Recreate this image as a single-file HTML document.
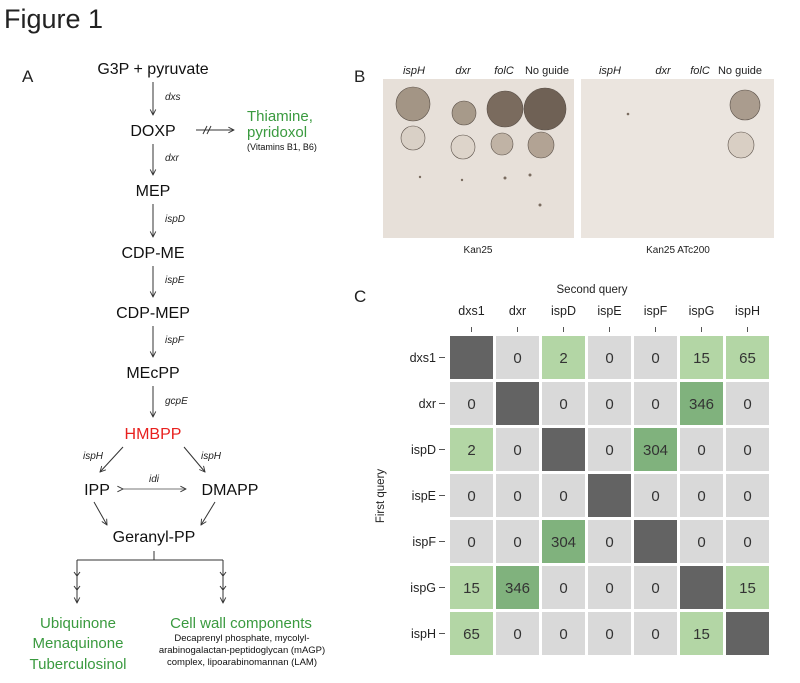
<!DOCTYPE html>
<html><head><meta charset="utf-8"><style>
body{margin:0;background:#fff}
svg text{font-family:"Liberation Sans",sans-serif}
</style></head><body>
<svg id="fig" width="800" height="678" viewBox="0 0 800 678" xmlns="http://www.w3.org/2000/svg">
<defs><marker id="ah" viewBox="0 0 10 10" refX="9" refY="5" markerWidth="7" markerHeight="7" orient="auto"><path d="M1,1 L9,5 L1,9" fill="none" stroke="#333" stroke-width="1.3"/></marker></defs>
<text x="4" y="28" font-size="27" fill="#222">Figure 1</text>
<text x="22" y="82" font-size="17" fill="#222">A</text>
<g id="pathway" font-size="16" fill="#111" text-anchor="middle">
<text x="153" y="74">G3P + pyruvate</text>
<text x="153" y="136">DOXP</text>
<text x="153" y="196">MEP</text>
<text x="153" y="258">CDP-ME</text>
<text x="153" y="318">CDP-MEP</text>
<text x="153" y="378">MEcPP</text>
<text x="153" y="439" fill="#e8201e">HMBPP</text>
<text x="97" y="495">IPP</text>
<text x="230" y="495">DMAPP</text>
<text x="154" y="542">Geranyl-PP</text>
</g>
<g stroke="#333" stroke-width="1" fill="none">
<line x1="153" y1="82" x2="153" y2="115" marker-end="url(#ah)"/>
<line x1="153" y1="144" x2="153" y2="175" marker-end="url(#ah)"/>
<line x1="153" y1="204" x2="153" y2="237" marker-end="url(#ah)"/>
<line x1="153" y1="266" x2="153" y2="297" marker-end="url(#ah)"/>
<line x1="153" y1="326" x2="153" y2="357" marker-end="url(#ah)"/>
<line x1="153" y1="386" x2="153" y2="417" marker-end="url(#ah)"/>
<line x1="196" y1="130" x2="234" y2="130" marker-end="url(#ah)"/>
<line x1="207" y1="126" x2="203" y2="134"/><line x1="211" y1="126" x2="207" y2="134"/>
<line x1="123" y1="447" x2="100" y2="472" marker-end="url(#ah)"/>
<line x1="184" y1="447" x2="205" y2="472" marker-end="url(#ah)"/>
<line x1="123" y1="489" x2="186" y2="489" marker-end="url(#ah)" marker-start="url(#ah)" stroke="#777"/>
<line x1="94" y1="502" x2="107" y2="525" marker-end="url(#ah)"/>
<line x1="215" y1="502" x2="201" y2="525" marker-end="url(#ah)"/>
<line x1="154" y1="551" x2="154" y2="560"/>
<line x1="77" y1="560" x2="223" y2="560"/>
<line x1="77" y1="560" x2="77" y2="603" marker-end="url(#ah)"/>
<line x1="223" y1="560" x2="223" y2="603" marker-end="url(#ah)"/>
<path d="M74,572 L77,576 L80,572 M74,586 L77,590 L80,586 M220,572 L223,576 L226,572 M220,586 L223,590 L226,586"/>
</g>
<g font-size="10" font-style="italic" fill="#222">
<text x="165" y="100">dxs</text><text x="165" y="161">dxr</text><text x="165" y="222">ispD</text>
<text x="165" y="283">ispE</text><text x="165" y="343">ispF</text><text x="165" y="404">gcpE</text>
<text x="83" y="459">ispH</text><text x="201" y="459">ispH</text><text x="149" y="482">idi</text>
</g>
<g fill="#3a9a3f">
<text x="247" y="121" font-size="15">Thiamine,</text><text x="247" y="137" font-size="15">pyridoxol</text>
<text x="247" y="150" font-size="9" fill="#111">(Vitamins B1, B6)</text>
<g text-anchor="middle" font-size="15"><text x="78" y="628">Ubiquinone</text><text x="78" y="648">Menaquinone</text><text x="78" y="669">Tuberculosinol</text>
<text x="241" y="628">Cell wall components</text></g>
<g text-anchor="middle" font-size="9.5" fill="#111"><text x="242" y="641">Decaprenyl phosphate, mycolyl-</text><text x="242" y="653">arabinogalactan-peptidoglycan (mAGP)</text><text x="242" y="665">complex, lipoarabinomannan (LAM)</text></g>
</g>
<text x="354" y="82" font-size="17" fill="#222">B</text>
<g>
<rect x="383" y="79" width="191" height="159" fill="#e7e0d9"/>
<rect x="581" y="79" width="193" height="159" fill="#ebe5df"/>
<g fill="#8a7d70" stroke="#5a5048" stroke-width="0.6">
<circle cx="413" cy="104" r="17" fill="#a39585"/><circle cx="464" cy="113" r="12" fill="#a79a8a"/>
<circle cx="505" cy="109" r="18" fill="#7a6b5e"/><circle cx="545" cy="109" r="21" fill="#6f6155"/>
<circle cx="413" cy="138" r="12" fill="#d9d0c6"/><circle cx="463" cy="147" r="12" fill="#ddd4ca"/>
<circle cx="502" cy="144" r="11" fill="#c0b3a5"/><circle cx="541" cy="145" r="13" fill="#b2a394"/>
<circle cx="745" cy="105" r="15" fill="#aa9c8e"/><circle cx="741" cy="145" r="13" fill="#d9cfc4"/>
</g>
<g fill="#7a6c60"><circle cx="420" cy="177" r="1.2"/><circle cx="462" cy="180" r="1.2"/><circle cx="505" cy="178" r="1.5"/><circle cx="530" cy="175" r="1.5"/><circle cx="540" cy="205" r="1.5"/><circle cx="628" cy="114" r="1.3"/></g>
</g>
<g font-size="11" fill="#222" text-anchor="middle">
<g font-style="italic"><text x="414" y="74">ispH</text><text x="463" y="74">dxr</text><text x="504" y="74">folC</text><text x="610" y="74">ispH</text><text x="663" y="74">dxr</text><text x="700" y="74">folC</text></g>
<text x="547" y="74">No guide</text><text x="740" y="74">No guide</text>
<text x="478" y="253" font-size="10">Kan25</text><text x="678" y="253" font-size="10">Kan25 ATc200</text>
</g>
<text x="354" y="302" font-size="17" fill="#222">C</text>
<text x="592" y="293" font-size="11.5" fill="#222" text-anchor="middle">Second query</text>
<text transform="translate(384,496) rotate(-90)" font-size="11.5" fill="#222" text-anchor="middle">First query</text>
<g id="heat"></g>
</svg>
<script>
const genes=["dxs1","dxr","ispD","ispE","ispF","ispG","ispH"];
const row0=[null,0,2,0,0,15,65];
const row1=[0,null,0,0,0,346,0];
const row2=[2,0,null,0,304,0,0];
const row3=[0,0,0,null,0,0,0];
const row4=[0,0,304,0,null,0,0];
const row5=[15,346,0,0,0,null,15];
const row6=[65,0,0,0,0,15,null];
const values=[row0,row1,row2,row3,row4,row5,row6];
const NS="http://www.w3.org/2000/svg";
const g=document.getElementById('heat');
const x0=450,y0=336,pitch=46,cs=43;
const xPos=i=>x0+i*pitch, yPos=j=>y0+j*pitch;
function color(v){if(v===null)return"#636363";if(v===0)return"#d9d9d9";if(v<100)return"#b3d6a5";return"#80b27d";}
function mk(tag,attrs){const e=document.createElementNS(NS,tag);for(const k in attrs)e.setAttribute(k,attrs[k]);return e;}
genes.forEach((gn,i)=>{
  const t=mk('text',{x:xPos(i)+cs/2,y:315,'font-size':12.5,'text-anchor':'middle',fill:'#222'});t.textContent=gn;
  
  
  g.appendChild(t);
  const tk=mk('line',{x1:xPos(i)+cs/2,x2:xPos(i)+cs/2,y1:327,y2:332,stroke:'#555'});
  
  
  g.appendChild(tk);
  const r=mk('text',{x:436,y:yPos(i)+cs/2+4.5,'font-size':12.5,'text-anchor':'end',fill:'#222'});r.textContent=gn;
  
  
  g.appendChild(r);
  const rt=mk('line',{x1:439,x2:445,y1:yPos(i)+cs/2,y2:yPos(i)+cs/2,stroke:'#555'});
  
  
  g.appendChild(rt);
});
values.forEach((row,j)=>row.forEach((v,i)=>{
  const c=mk('rect',{x:xPos(i),y:yPos(j),width:cs,height:cs,fill:color(v)});
  
  
  g.appendChild(c);
  if(v!==null){const t=mk('text',{x:xPos(i)+cs/2,y:yPos(j)+cs/2+5.5,'font-size':15,'text-anchor':'middle',fill:'#333'});t.textContent=v;
  
  
  g.appendChild(t);}
}));
</script>
</body></html>
